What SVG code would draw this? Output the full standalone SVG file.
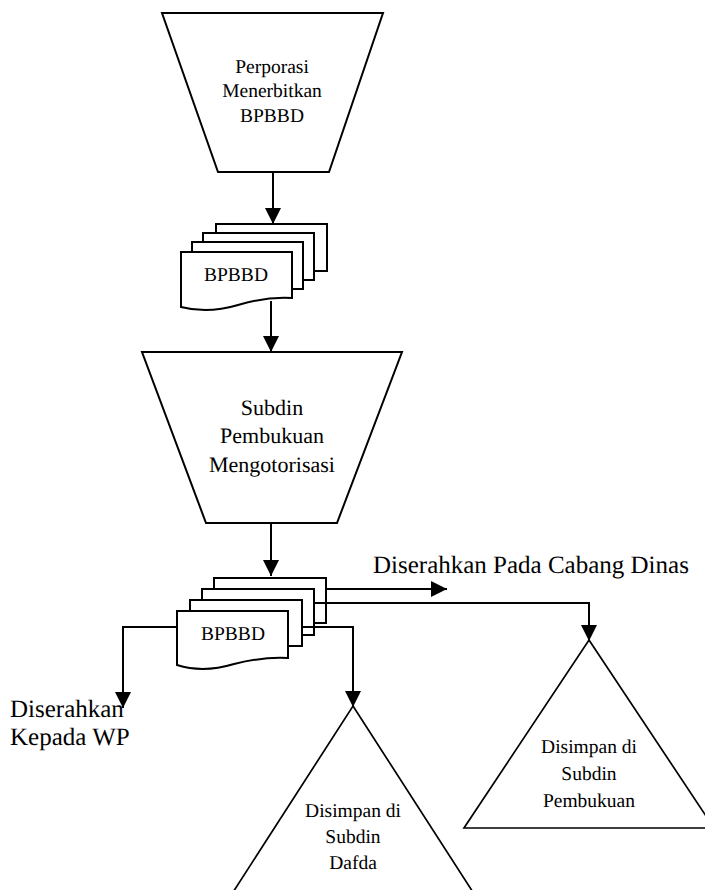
<svg xmlns="http://www.w3.org/2000/svg" width="705" height="890" viewBox="0 0 705 890" text-rendering="geometricPrecision">
  <style>
    .shape { fill: #fff; stroke: #000; stroke-width: 2; stroke-linejoin: miter; }
    .tri { fill: #fff; stroke: #000; stroke-width: 1.7; }
    .wire { fill: none; stroke: #000; stroke-width: 2; }
    text { font-family: "Liberation Serif", "Times New Roman", serif; fill: #000; text-anchor: middle; }
    .t19 { font-size: 19.5px; }
    .t22 { font-size: 22px; }
    .t25 { font-size: 25px; text-anchor: start; }
  </style>
  <defs>
    <marker id="arrow" markerUnits="userSpaceOnUse" markerWidth="16" markerHeight="16" viewBox="0 0 14 14" refX="14" refY="7" orient="auto">
      <path d="M0,0 L14,7 L0,14 Z" fill="#000"/>
    </marker>
  </defs>

  <rect width="705" height="890" fill="#fff"/>

  <!-- manual operation: Perporasi -->
  <g id="node-perporasi" font-family="Liberation Serif, serif">
    <polygon class="shape" points="162,13 383,13 329,172 218,172"/>
    <text class="t19" x="272" y="73">Perporasi</text>
    <text class="t19" x="272" y="97">Menerbitkan</text>
    <text class="t19" x="272" y="122">BPBBD</text>
  </g>

  <!-- document stack: BPBBD (first) -->
  <g id="node-bpbbd-1">
    <rect class="shape" x="216" y="224" width="111" height="47"/>
    <rect class="shape" x="203" y="233" width="111" height="47"/>
    <rect class="shape" x="192" y="242" width="111" height="47"/>
    <path class="shape" d="M181,252 H292 V298 C275,297 258,299 238,305 C218,311 200,312 181,307 Z"/>
    <text class="t19" x="236" y="281">BPBBD</text>
  </g>

  <!-- manual operation: Subdin Pembukuan -->
  <g id="node-subdin-pembukuan">
    <polygon class="shape" points="142,352 402,352 337,523 206,523"/>
    <text class="t22" x="272" y="415">Subdin</text>
    <text class="t22" x="272" y="443">Pembukuan</text>
    <text class="t22" x="272" y="472">Mengotorisasi</text>
  </g>

  <!-- document stack: BPBBD (authorised) -->
  <g id="node-bpbbd-2">
    <rect class="shape" x="214" y="578" width="112" height="45"/>
    <rect class="shape" x="202" y="589" width="112" height="46"/>
    <rect class="shape" x="190" y="600" width="112" height="46"/>
    <path class="shape" d="M177,611 H288 V658 C271,657 254,659 234,664 C214,670 196,671 177,665 Z"/>
    <text class="t19" x="233" y="640">BPBBD</text>
  </g>

  <!-- storage: Subdin Dafda -->
  <g id="node-simpan-dafda">
    <polygon class="tri" points="353,706 478,900 228,900"/>
    <text class="t19" x="353" y="817">Disimpan di</text>
    <text class="t19" x="353" y="843">Subdin</text>
    <text class="t19" x="353" y="869">Dafda</text>
  </g>

  <!-- storage: Subdin Pembukuan -->
  <g id="node-simpan-pembukuan">
    <polygon class="tri" points="589,640 714,828 464,828"/>
    <text class="t19" x="589" y="753">Disimpan di</text>
    <text class="t19" x="589" y="780">Subdin</text>
    <text class="t19" x="589" y="807">Pembukuan</text>
  </g>

  <!-- free labels -->
  <g id="labels">
    <text class="t25" x="373" y="573">Diserahkan Pada Cabang Dinas</text>
    <text class="t25" x="10" y="717">Diserahkan</text>
    <text class="t25" x="10" y="745">Kepada WP</text>
  </g>

  <!-- connectors -->
  <g id="connectors">
    <line class="wire" x1="273" y1="172" x2="273" y2="224" marker-end="url(#arrow)"/>
    <line class="wire" x1="271" y1="301" x2="271" y2="352" marker-end="url(#arrow)"/>
    <line class="wire" x1="271" y1="523" x2="271" y2="576" marker-end="url(#arrow)"/>
    <polyline class="wire" points="177,627 123,627 123,708" marker-end="url(#arrow)"/>
    <line class="wire" x1="326" y1="589" x2="447" y2="589" marker-end="url(#arrow)"/>
    <polyline class="wire" points="313,603 589,603 589,641" marker-end="url(#arrow)"/>
    <polyline class="wire" points="302,627 353,627 353,707" marker-end="url(#arrow)"/>
  </g>
</svg>
